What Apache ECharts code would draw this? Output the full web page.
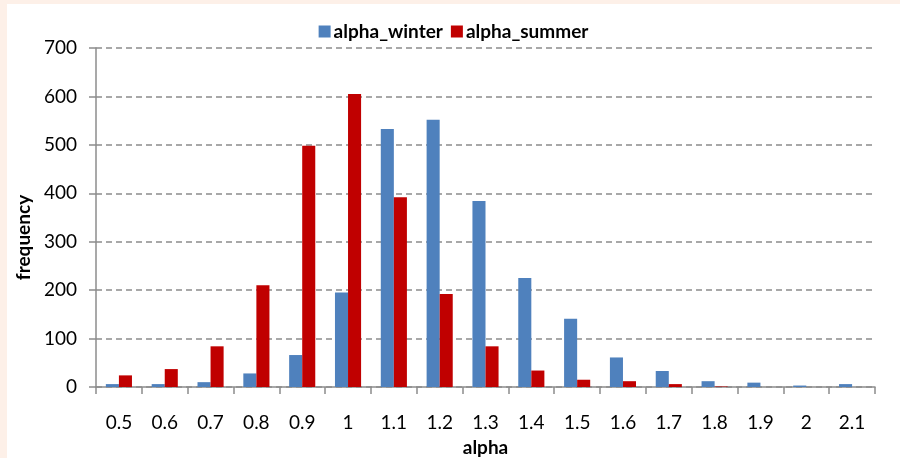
<!DOCTYPE html>
<html>
<head>
<meta charset="utf-8">
<script src="https://cdn.jsdelivr.net/npm/echarts@6/dist/echarts.min.js"></script>
<style>
  html, body { margin: 0; padding: 0; background: #fdf0e8; }
  #chart { position: absolute; left: 7px; top: 4px; width: 893px; height: 454px; background: #ffffff; }
</style>
</head>
<body>
<div id="chart"></div>
<script>
	// categories (alpha bins) and frequencies
	var alphaBins = ['0.5', '0.6', '0.7', '0.8', '0.9', '1', '1.1', '1.2', '1.3', '1.4', '1.5', '1.6', '1.7', '1.8', '1.9', '2', '2.1'];
	var alphaWinter = [6, 6, 10, 28, 66, 195, 533, 552, 384, 225, 141, 61, 33, 12, 9, 3, 6];
	var alphaSummer = [24, 37, 84, 210, 498, 605, 392, 192, 84, 34, 15, 12, 6, 1, 0, 0, 0];
	var yTicks = [0, 100, 200, 300, 400, 500, 600, 700];

	var fontName = 'Lato, "Noto Sans", sans-serif';
	var axisGrey = '#8c8c8c';

	var chart = echarts.init(document.getElementById('chart'));
	var option = {
		animation: false,
		backgroundColor: '#FFFFFF',
		textStyle: { fontFamily: fontName },
		legend: {
			data: ['alpha_winter', 'alpha_summer'],
			top: 13,
			left: 'center',
			icon: 'rect',
			itemWidth: 12,
			itemHeight: 12,
			itemGap: 8,
			textStyle: { fontSize: 19, fontWeight: 'bold', color: '#000', padding: [0, 0, 0, -2] }
		},
		grid: {
			left: 89,
			right: 25,
			top: 44,
			bottom: 71,
			outerBoundsMode: 'none'
		},
		xAxis: [{
			type: 'category',
			data: alphaBins,
			name: 'alpha',
			nameLocation: 'middle',
			nameGap: 51,
			nameTextStyle: { fontSize: 19, fontWeight: 'bold', color: '#000' },
			axisLine: { lineStyle: { color: axisGrey, width: 1.5 } },
			axisTick: { show: true, length: 7, alignWithLabel: false, lineStyle: { color: axisGrey, width: 1.5 } },
			axisLabel: { fontSize: 19, color: '#000', margin: 26 },
			splitLine: { show: false }
		}],
		yAxis: [{
			type: 'value',
			min: yTicks[0],
			max: yTicks[yTicks.length - 1],
			interval: 100,
			name: 'frequency',
			nameLocation: 'middle',
			nameGap: 59,
			nameRotate: 90,
			nameTextStyle: { fontSize: 19, fontWeight: 'bold', color: '#000', padding: [0, 40, 0, 0] },
			axisLine: { show: true, lineStyle: { color: axisGrey, width: 1.5 } },
			axisTick: { show: true, length: 7, inside: false, lineStyle: { color: axisGrey, width: 1.5 } },
			axisLabel: { fontSize: 19, color: '#000', margin: 19 },
			splitLine: { show: true, lineStyle: { color: axisGrey, type: [6, 4], width: 1.5 } }
		}],
		series: [{
			name: 'alpha_winter',
			type: 'bar',
			barGap: '0%',
			barCategoryGap: '43%',
			itemStyle: { color: '#4F81BD' },
			data: alphaWinter
		}, {
			name: 'alpha_summer',
			type: 'bar',
			itemStyle: { color: '#C00000' },
			data: alphaSummer
		}]
	};
	chart.setOption(option);
</script>
</body>
</html>
